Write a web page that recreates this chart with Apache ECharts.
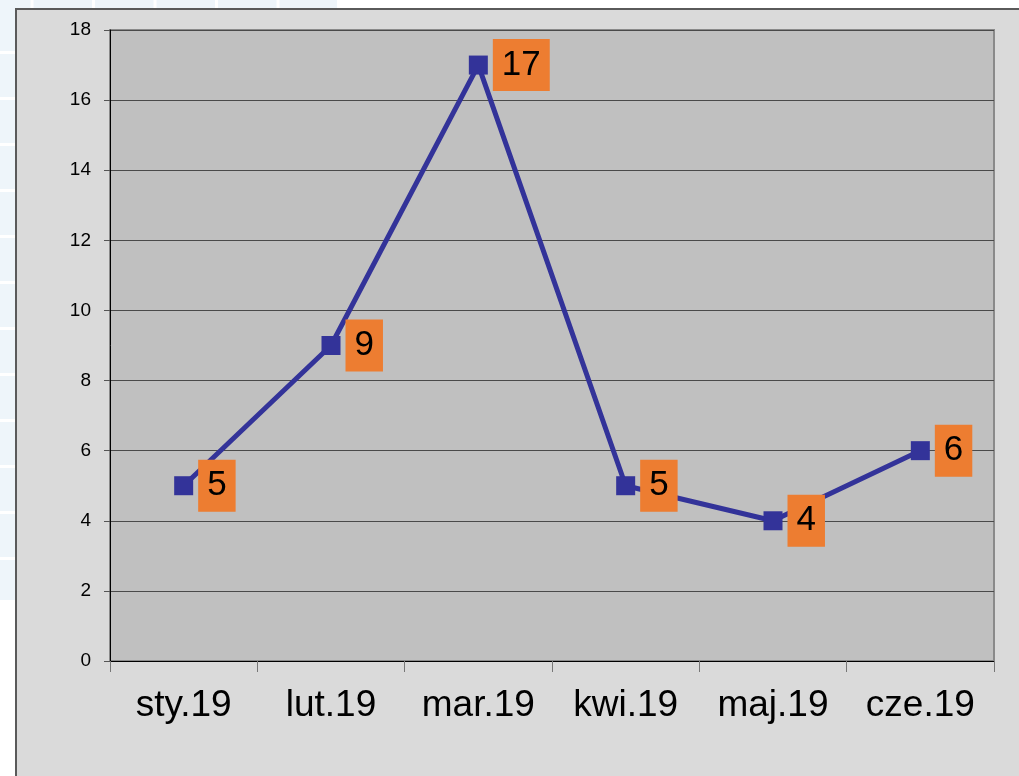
<!DOCTYPE html>
<html>
<head>
<meta charset="utf-8">
<script src="https://cdn.jsdelivr.net/npm/echarts@6/dist/echarts.min.js"></script>
<style>
  html, body { margin: 0; padding: 0; width: 1019px; height: 776px; overflow: hidden; background: #ffffff; }
  #stripLeft {
    position: absolute; left: 0; top: 0; width: 15px; height: 600px;
    background-color: #eef5fa;
    background-image: linear-gradient(to bottom, transparent 0px, transparent 43px, #ffffff 43px, #ffffff 46px);
    background-size: 15px 46px;
    background-position: 0 8px;
  }
  #stripTop {
    position: absolute; left: 0; top: 0; width: 337px; height: 8px;
    background-color: #eef5fa;
    background-image: linear-gradient(to right, transparent 0px, transparent 59px, #ffffff 59px, #ffffff 62px);
    background-size: 61.5px 8px;
    background-position: -28px 0;
  }
  #panel {
    position: absolute; left: 15px; top: 8px; width: 1004px; height: 768px;
    background: #dadada; border-left: 2px solid #5a5a5a; border-top: 2px solid #5a5a5a;
  }
  #chart { position: absolute; left: 0; top: 0; width: 1002px; height: 766px; }
</style>
</head>
<body>
<div id="stripLeft"></div>
<div id="stripTop"></div>
<div id="panel"><div id="chart"></div></div>
<script>
const months = ['sty.19', 'lut.19', 'mar.19', 'kwi.19', 'maj.19', 'cze.19']
const counts = [5, 9, 17, 5, 4, 6]

const chart = echarts.init(document.getElementById('chart'))
chart.setOption({
  animation: false,
  backgroundColor: 'transparent',
  textStyle: { fontFamily: 'Liberation Sans, Arial, sans-serif' },
  grid: {
    left: 93, right: 25, top: 20, bottom: 115,
    show: true,
    backgroundColor: '#c0c0c0',
    borderColor: '#8a8a8a',
    borderWidth: 2,
  },
  xAxis: {
    type: 'category',
    data: months,
    boundaryGap: true,
    axisLine: { lineStyle: { color: '#000', width: 1 } },
    axisTick: { show: true, length: 11, lineStyle: { color: '#777' } },
    axisLabel: { color: '#000', fontSize: 37, margin: 26 },
    splitLine: { show: false },
  },
  yAxis: {
    type: 'value',
    min: 0,
    max: 18,
    interval: 2,
    axisLine: { show: true, lineStyle: { color: '#000', width: 1 } },
    axisTick: { show: true, length: 6, lineStyle: { color: '#555' } },
    axisLabel: { color: '#000', fontSize: 19, margin: 19 },
    splitLine: { lineStyle: { color: '#4a4a4a', width: 1 } },
  },
  series: [
    {
      type: 'line',
      data: counts,
      symbol: 'rect',
      symbolSize: 19,
      itemStyle: { color: '#333399' },
      lineStyle: { color: '#333399', width: 5 },
      label: {
        show: true,
        position: 'right',
        distance: 5,
        color: '#000',
        fontSize: 35,
        lineHeight: 34,
        backgroundColor: '#ed7d31',
        padding: [9, 9, 9, 9],
      },
    },
  ],
})
</script>
</body>
</html>
